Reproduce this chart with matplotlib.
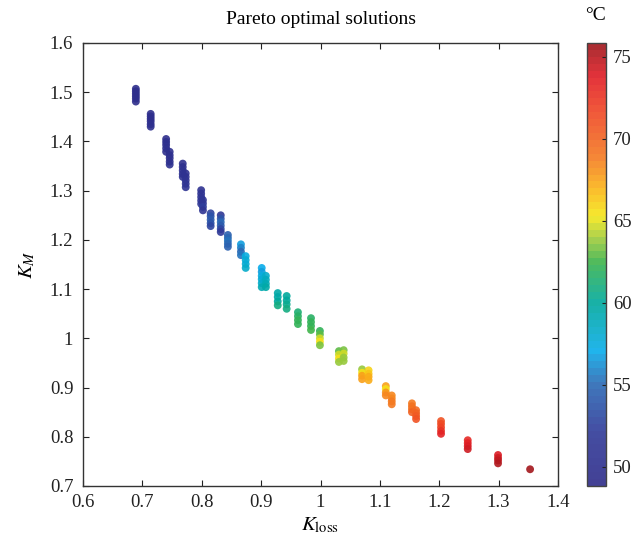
import numpy as np
import matplotlib
matplotlib.use("Agg")
import matplotlib.pyplot as plt
from matplotlib.colors import LinearSegmentedColormap

plt.rcParams['font.family'] = ['Liberation Serif', 'DejaVu Serif']
plt.rcParams['mathtext.fontset'] = 'stix'

# Pareto front, grouped in vertical clusters (K_loss, list of K_M, list of temperature)
cluster_kloss = [0.689, 0.714, 0.740, 0.746, 0.768, 0.773, 0.799, 0.802,
                 0.815, 0.832, 0.844, 0.866, 0.874, 0.901, 0.908, 0.928,
                 0.943, 0.962, 0.984, 0.999, 1.031, 1.039, 1.070, 1.081,
                 1.110, 1.120, 1.154, 1.161, 1.203, 1.248, 1.299, 1.353]

cluster_km = [
    [1.507, 1.502, 1.497, 1.492, 1.487, 1.481],
    [1.456, 1.451, 1.446, 1.441, 1.435, 1.430],
    [1.405, 1.399, 1.393, 1.386, 1.379],
    [1.379, 1.372, 1.366, 1.359, 1.353],
    [1.355, 1.348, 1.341, 1.334, 1.328],
    [1.335, 1.328, 1.321, 1.314, 1.307],
    [1.301, 1.294, 1.287, 1.280, 1.273],
    [1.281, 1.274, 1.267, 1.260],
    [1.254, 1.248, 1.241, 1.234, 1.228],
    [1.250, 1.243, 1.236, 1.229, 1.222, 1.216],
    [1.210, 1.204, 1.198, 1.192, 1.186],
    [1.191, 1.184, 1.176, 1.169],
    [1.167, 1.159, 1.151, 1.143],
    [1.143, 1.135, 1.127, 1.120, 1.112, 1.104],
    [1.127, 1.119, 1.111, 1.104],
    [1.092, 1.084, 1.075, 1.067],
    [1.086, 1.077, 1.069, 1.060],
    [1.053, 1.045, 1.037, 1.029],
    [1.041, 1.033, 1.025, 1.017],
    [1.015, 1.008, 1.000, 0.993, 0.986],
    [0.974, 0.967, 0.959, 0.952],
    [0.976, 0.969, 0.961, 0.954],
    [0.937, 0.930, 0.924, 0.917],
    [0.935, 0.928, 0.922, 0.915],
    [0.903, 0.897, 0.890, 0.884],
    [0.884, 0.878, 0.872, 0.866],
    [0.868, 0.862, 0.856, 0.850],
    [0.854, 0.848, 0.842, 0.836],
    [0.832, 0.826, 0.819, 0.812, 0.806],
    [0.793, 0.787, 0.781, 0.775],
    [0.763, 0.757, 0.752, 0.746],
    [0.734],
]

cluster_temp = [
    [49.4, 49.4, 49.5, 49.5, 49.6, 49.6],
    [49.5, 49.5, 49.6, 49.6, 49.7, 49.7],
    [49.6, 49.7, 49.8, 49.8, 49.9],
    [49.8, 49.9, 50.0, 50.1, 50.2],
    [50.0, 50.1, 50.2, 50.3, 50.4],
    [50.2, 50.4, 50.6, 50.8, 51.0],
    [50.5, 50.6, 50.8, 51.0, 51.5],
    [51.0, 51.5, 52.5, 51.2],
    [53.0, 53.5, 54.0, 53.5, 53.0],
    [51.5, 53.5, 55.0, 54.0, 53.0, 52.0],
    [54.5, 55.0, 55.5, 55.0, 54.5],
    [56.5, 56.0, 55.0, 55.5],
    [57.5, 58.0, 58.0, 58.5],
    [57.0, 56.8, 57.5, 58.0, 58.5, 59.0],
    [58.5, 58.8, 59.0, 59.5],
    [59.5, 59.8, 60.2, 61.0],
    [60.0, 60.2, 60.5, 61.0],
    [61.5, 61.8, 62.0, 62.2],
    [61.8, 62.0, 62.2, 62.5],
    [62.0, 63.0, 64.5, 65.5, 63.5],
    [63.0, 64.5, 65.5, 64.0],
    [63.5, 64.5, 63.8, 64.0],
    [64.0, 65.5, 67.5, 67.8],
    [66.0, 66.5, 67.0, 67.0],
    [67.5, 65.5, 68.2, 68.5],
    [68.5, 68.5, 68.8, 69.0],
    [68.8, 69.2, 69.5, 70.0],
    [69.8, 70.2, 70.5, 71.0],
    [71.0, 71.5, 72.0, 72.5, 73.5],
    [73.0, 73.5, 74.0, 74.5],
    [74.0, 74.5, 75.0, 75.2],
    [75.8],
]

t_min, t_max = 48.84, 75.85

k_loss = np.concatenate([[x] * len(y) for x, y in zip(cluster_kloss, cluster_km)])
k_m = np.concatenate(cluster_km)
temp = np.concatenate(cluster_temp)

anchors = [
    (48.84, "#2e2c8a"), (52.0, "#2f3a98"), (55.0, "#2a6bb6"), (57.0, "#08acea"),
    (60.0, "#00a99c"), (62.5, "#3bb34b"), (64.0, "#a2cc3a"), (65.3, "#f5e817"),
    (67.0, "#fbb416"), (69.0, "#f47a21"), (72.0, "#ee4224"), (74.0, "#e11d25"),
    (75.85, "#a3161c"),
]
cmap = LinearSegmentedColormap.from_list(
    "temp",
    [((v - t_min) / (t_max - t_min), c) for v, c in anchors],
    N=64,
)

fig = plt.figure(figsize=(6.36, 5.46), dpi=100)
ax = fig.add_axes([83 / 636, 1 - 486 / 546, 475 / 636, 443 / 546])
cax = fig.add_axes([587 / 636, 1 - 486 / 546, 19 / 636, 443 / 546])

sc = ax.scatter(k_loss, k_m, c=temp, cmap=cmap, vmin=t_min, vmax=t_max,
                s=32, linewidths=0, alpha=0.9)

ax.set_xlim(0.6, 1.4)
ax.set_ylim(0.7, 1.6)
ax.set_xticks([0.6, 0.7, 0.8, 0.9, 1.0, 1.1, 1.2, 1.3, 1.4])
ax.set_xticklabels(["0.6", "0.7", "0.8", "0.9", "1", "1.1", "1.2", "1.3", "1.4"])
ax.set_yticks([0.7, 0.8, 0.9, 1.0, 1.1, 1.2, 1.3, 1.4, 1.5, 1.6])
ax.set_yticklabels(["0.7", "0.8", "0.9", "1", "1.1", "1.2", "1.3", "1.4", "1.5", "1.6"])
ax.tick_params(direction="in", top=True, right=True, length=4, labelsize=13.5,
               colors="#222222")
ax.tick_params(axis="x", pad=6)
ax.tick_params(axis="y", pad=7)
for sp in ax.spines.values():
    sp.set_linewidth(1.0)
    sp.set_color("#333333")

ax.set_xlabel(r"$K_{\mathrm{loss}}$", fontsize=15, labelpad=3)
ax.set_ylabel(r"$K_{M}$", fontsize=15, labelpad=9)
ax.set_title("Pareto optimal solutions", fontsize=14, pad=14)

cb = fig.colorbar(sc, cax=cax)
cb.set_ticks([50, 55, 60, 65, 70, 75])
cb.ax.tick_params(direction="in", length=3, labelsize=13.5, colors="#222222", pad=5)
cb.outline.set_linewidth(1.0)
cb.outline.set_edgecolor("#444444")
fig.text(596 / 636, 1 - 15 / 546, "°C", fontsize=14, ha="center", va="center")

fig.savefig("out.png", dpi=100)
